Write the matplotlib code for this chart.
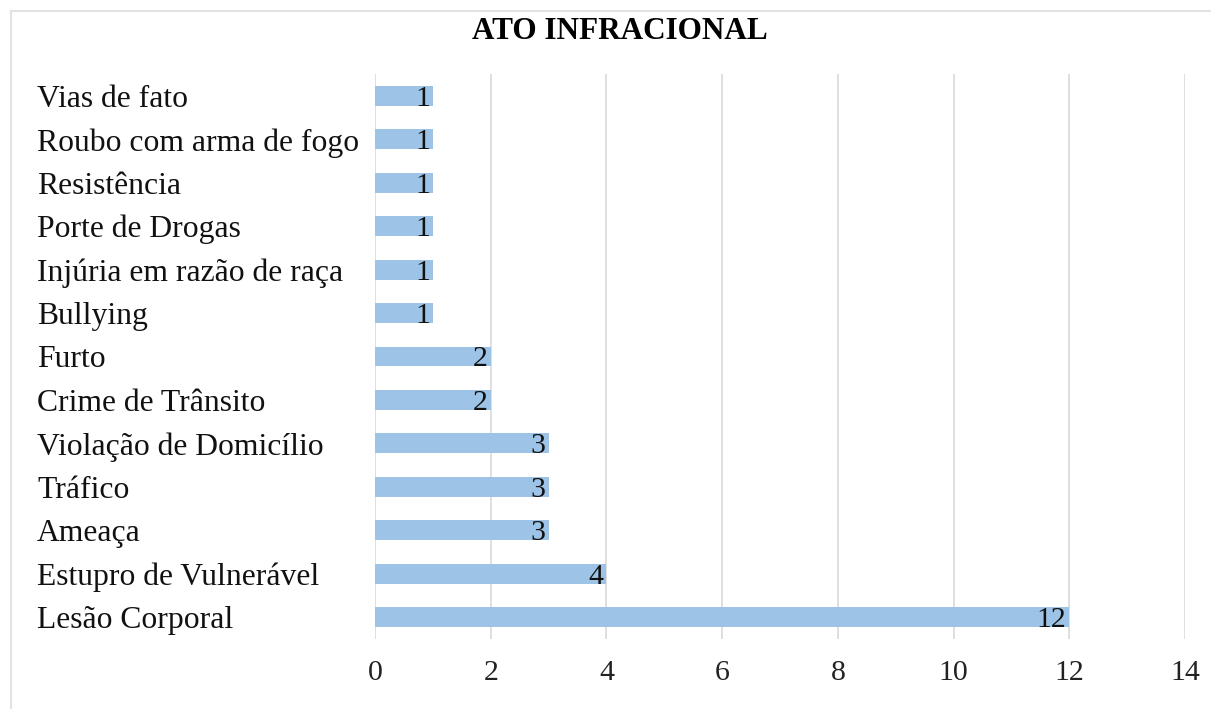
import matplotlib.pyplot as plt
from matplotlib.lines import Line2D

# categories from top to bottom as shown in the chart
categorias = [
    "Vias de fato",
    "Roubo com arma de fogo",
    "Resistência",
    "Porte de Drogas",
    "Injúria em razão de raça",
    "Bullying",
    "Furto",
    "Crime de Trânsito",
    "Violação de Domicílio",
    "Tráfico",
    "Ameaça",
    "Estupro de Vulnerável",
    "Lesão Corporal",
]
valores = [1, 1, 1, 1, 1, 1, 2, 2, 3, 3, 3, 4, 12]
xticks = [0, 2, 4, 6, 8, 10, 12, 14]

bar_color = "#9DC3E6"
grid_color = "#D9D9D9"

plt.rcParams['font.family'] = ['Liberation Serif', 'DejaVu Serif']

fig = plt.figure(figsize=(12.11, 7.09), dpi=100)
ax = fig.add_axes((0.3097, 0.0992, 0.6688, 0.796))

pos = list(range(len(categorias)))
ax.barh(pos, valores, height=0.46, color=bar_color, zorder=2)

for p, v in zip(pos, valores):
    ax.text(v - 0.05, p, str(v), ha='right', va='center_baseline', fontsize=21.5,
            color='#111111', zorder=3)

ax.set_ylim(len(categorias) - 0.5, -0.5)
ax.set_xlim(0, 14)
ax.set_xticks(xticks)
ax.set_xticklabels([str(t) for t in xticks], fontsize=21.5, color='#222222')
ax.set_yticks(pos)
ax.set_yticklabels(categorias, fontsize=22.8, color='#111111', ha='left')
# pad in points: labels start at about x = 37 px
ax.tick_params(axis='y', length=0, pad=(375 - 37) * 0.72)
ax.tick_params(axis='x', length=0, pad=15)

ax.grid(axis='x', color=grid_color, linewidth=1.2, zorder=0)
for s in ax.spines.values():
    s.set_visible(False)

fig.text(0.512, 0.955, "ATO INFRACIONAL", ha='center', va='center',
         fontsize=22.5, fontweight='bold')

# thin frame around the chart area
fig.add_artist(Line2D([11 / 1211, 11 / 1211], [0, 1 - 11 / 709],
                      transform=fig.transFigure, color='#E3E3E3', linewidth=1.5))
fig.add_artist(Line2D([11 / 1211, 1], [1 - 11 / 709, 1 - 11 / 709],
                      transform=fig.transFigure, color='#E3E3E3', linewidth=1.5))

fig.savefig("out.png", dpi=100)
